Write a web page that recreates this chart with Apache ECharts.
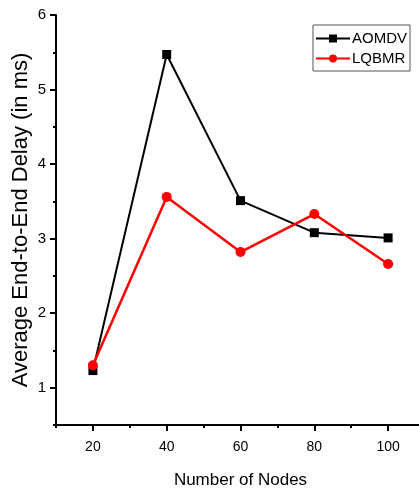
<!DOCTYPE html>
<html><head><meta charset="utf-8">
<script src="https://cdn.jsdelivr.net/npm/echarts@6/dist/echarts.min.js"></script>
<style>html,body{margin:0;padding:0;background:#fff}#c{width:419px;height:491px}</style>
</head><body><div id="c"></div>
<script>
var nodes = [20, 40, 60, 80, 100];
var aomdv = [1.23, 5.47, 3.51, 3.08, 3.01];
var lqbmr = [1.30, 3.56, 2.82, 3.33, 2.66];
var xTicks = [20, 40, 60, 80, 100];
var yTicks = [1, 2, 3, 4, 5, 6];
var font = 'Liberation Sans';

var chart = echarts.init(document.getElementById('c'));
chart.setOption({
  animation: false,
  textStyle: {fontFamily: font},
  grid: {left: 56, top: 15, right: -6, bottom: 66, outerBoundsMode: 'none', containLabel: false},
  legend: {
    orient: 'vertical', left: 313, top: 25,
    data: ['AOMDV', 'LQBMR'],
    itemWidth: 34, itemHeight: 10, itemGap: 5,
    padding: [6, 3, 5, 2],
    borderColor: '#555', borderWidth: 1,
    textStyle: {fontFamily: font, fontSize: 15, color: '#000', padding: [0, 0, 0, -3]}
  },
  xAxis: [{
    type: 'value', min: 10, max: 110,
    name: 'Number of Nodes', nameLocation: 'middle', nameGap: 47, nameMoveOverlap: false,
    nameTextStyle: {fontFamily: font, fontSize: 17, color: '#000'},
    axisLine: {lineStyle: {color: '#000', width: 2}},
    axisTick: {customValues: xTicks, length: 6, lineStyle: {color: '#000', width: 2}},
    axisLabel: {customValues: xTicks, fontSize: 14, color: '#000', margin: 15, fontFamily: font},
    splitLine: {show: false}
  }, {
    type: 'value', min: 10, max: 110, interval: 10, position: 'bottom',
    axisLine: {show: false},
    axisTick: {length: 3, lineStyle: {color: '#000', width: 2}},
    axisLabel: {show: false},
    splitLine: {show: false}
  }],
  yAxis: [{
    type: 'value', min: 0.5, max: 6,
    name: 'Average End-to-End Delay (in ms)', nameLocation: 'middle', nameGap: 24, nameMoveOverlap: false,
    nameTextStyle: {fontFamily: font, fontSize: 22, color: '#000'},
    axisLine: {lineStyle: {color: '#000', width: 2}},
    axisTick: {customValues: yTicks, length: 6, lineStyle: {color: '#000', width: 2}},
    axisLabel: {customValues: yTicks, fontSize: 15, color: '#000', margin: 10, fontFamily: font},
    splitLine: {show: false}
  }, {
    type: 'value', min: 0.5, max: 6, interval: 0.5, position: 'left',
    axisLine: {show: false},
    axisTick: {length: 3, lineStyle: {color: '#000', width: 2}},
    axisLabel: {show: false},
    splitLine: {show: false}
  }],
  series: [{
    name: 'AOMDV', type: 'line',
    data: nodes.map(function (n, i) { return [n, aomdv[i]]; }),
    symbol: 'rect', symbolSize: 9,
    lineStyle: {color: '#000', width: 2},
    itemStyle: {color: '#000'}
  }, {
    name: 'LQBMR', type: 'line',
    data: nodes.map(function (n, i) { return [n, lqbmr[i]]; }),
    symbol: 'circle', symbolSize: 10,
    lineStyle: {color: '#ff0000', width: 2.5},
    itemStyle: {color: '#ff0000'}
  }]
});
</script></body></html>
